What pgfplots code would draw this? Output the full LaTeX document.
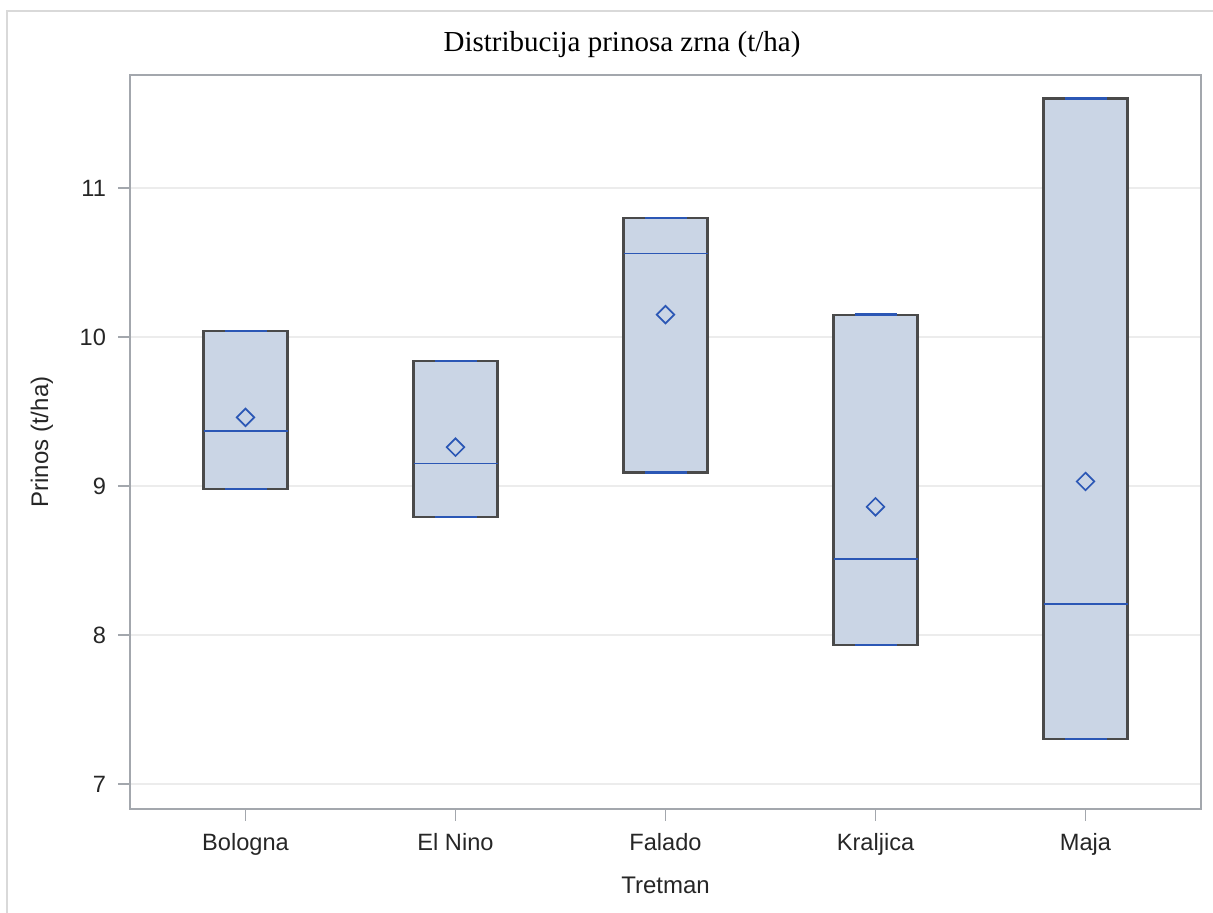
\documentclass[border=0pt]{standalone}
\usepackage{fontspec}
\setmainfont{Liberation Serif}
\newfontfamily\arial{Liberation Sans}
\usepackage{pgfplots}
\pgfplotsset{compat=1.18}
\definecolor{boxfill}{HTML}{CAD5E5}
\definecolor{boxedge}{HTML}{4A4A4A}
\definecolor{medblue}{HTML}{2B57B5}
\definecolor{framegray}{HTML}{A3A7AD}
\definecolor{gridgray}{HTML}{ECECEC}
\definecolor{outer}{HTML}{D9D9D9}
\begin{document}
\begin{tikzpicture}
\path[use as bounding box] (0,0) rectangle (606.5pt,456.5pt);
\draw[outer, line width=1pt] (3.6pt,0) -- (3.6pt,451pt) -- (606.5pt,451pt);
\node[anchor=base, font=\fontsize{14.5}{16}\selectfont] at (311pt,430.6pt) {Distribucija prinosa zrna (t/ha)};
\begin{axis}[
  at={(65pt,52pt)}, anchor=south west,
  scale only axis, width=535.5pt, height=367pt,
  xmin=0.45, xmax=5.55, ymin=6.832, ymax=11.758,
  xtick={1,2,3,4,5},
  xticklabels={Bologna,El Nino,Falado,Kraljica,Maja},
  ytick={7,8,9,10,11},
  xtick pos=bottom, ytick pos=left,
  tick align=outside, major tick length=6pt,
  every tick/.style={framegray, line width=0.7pt},
  axis line style={framegray, line width=0.7pt},
  ymajorgrids, grid style={gridgray, line width=0.8pt},
  /pgf/number format/assume math mode=true,
  tick label style={font=\arial\fontsize{11.8}{13}\selectfont, text=black!85},
  xticklabel style={yshift=-2.5pt},
  yticklabel style={xshift=-2.5pt},
  xlabel={Tretman}, ylabel={Prinos (t/ha)},
  every axis x label/.style={at={(axis description cs:0.5,-0.1035)}, anchor=center, font=\arial\fontsize{12}{14}\selectfont, text=black!85},
  every axis y label/.style={at={(axis description cs:-0.0822,0.5)}, rotate=90, anchor=center, font=\arial\fontsize{12}{14}\selectfont, text=black!85},
  clip=false,
]
% boxes: lower quartile (= lower whisker) to upper quartile (= upper whisker)
\addplot[fill=boxfill, draw=boxedge, line width=1.05pt] coordinates {(0.8,8.98) (1.2,8.98) (1.2,10.04) (0.8,10.04)} -- cycle;
\addplot[fill=boxfill, draw=boxedge, line width=1.05pt] coordinates {(1.8,8.79) (2.2,8.79) (2.2,9.84) (1.8,9.84)} -- cycle;
\addplot[fill=boxfill, draw=boxedge, line width=1.05pt] coordinates {(2.8,9.09) (3.2,9.09) (3.2,10.80) (2.8,10.80)} -- cycle;
\addplot[fill=boxfill, draw=boxedge, line width=1.05pt] coordinates {(3.8,7.93) (4.2,7.93) (4.2,10.15) (3.8,10.15)} -- cycle;
\addplot[fill=boxfill, draw=boxedge, line width=1.05pt] coordinates {(4.8,7.30) (5.2,7.30) (5.2,11.60) (4.8,11.60)} -- cycle;
% medians
\addplot[medblue, line width=0.9pt] coordinates {(0.8,9.37) (1.2,9.37)};
\addplot[medblue, line width=0.9pt] coordinates {(1.8,9.15) (2.2,9.15)};
\addplot[medblue, line width=0.9pt] coordinates {(2.8,10.56) (3.2,10.56)};
\addplot[medblue, line width=0.9pt] coordinates {(3.8,8.51) (4.2,8.51)};
\addplot[medblue, line width=0.9pt] coordinates {(4.8,8.21) (5.2,8.21)};
% whisker caps
\addplot[medblue, line width=1.1pt] coordinates {(0.9,8.98) (1.1,8.98)};
\addplot[medblue, line width=1.1pt] coordinates {(0.9,10.04) (1.1,10.04)};
\addplot[medblue, line width=1.1pt] coordinates {(1.9,8.79) (2.1,8.79)};
\addplot[medblue, line width=1.1pt] coordinates {(1.9,9.84) (2.1,9.84)};
\addplot[medblue, line width=1.1pt] coordinates {(2.9,9.09) (3.1,9.09)};
\addplot[medblue, line width=1.1pt] coordinates {(2.9,10.80) (3.1,10.80)};
\addplot[medblue, line width=1.1pt] coordinates {(3.9,7.93) (4.1,7.93)};
\addplot[medblue, line width=1.1pt] coordinates {(3.9,10.15) (4.1,10.15)};
\addplot[medblue, line width=1.1pt] coordinates {(4.9,7.30) (5.1,7.30)};
\addplot[medblue, line width=1.1pt] coordinates {(4.9,11.60) (5.1,11.60)};
% means
\addplot[only marks, mark=square, mark size=3.1pt, mark options={draw=medblue, line width=0.85pt, fill=none, rotate=45}]
  coordinates {(1,9.46) (2,9.26) (3,10.15) (4,8.86) (5,9.03)};
\end{axis}
\end{tikzpicture}
\end{document}
